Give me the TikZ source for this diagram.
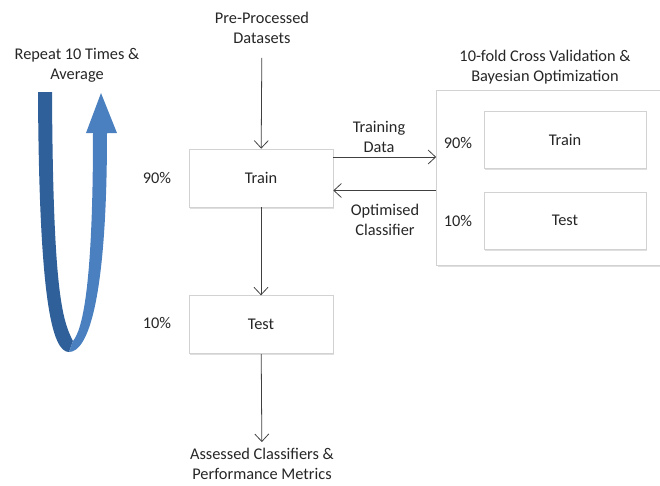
\documentclass[tikz,border=0pt]{standalone}
\usepackage{fontspec}
\setmainfont{Carlito}
\usetikzlibrary{arrows.meta,positioning,shadows}
\definecolor{ribbonDark}{HTML}{30609A}
\definecolor{ribbonLight}{HTML}{4A80C0}
\definecolor{boxLine}{HTML}{D2D2D2}
\tikzset{
    box/.style={draw=boxLine, fill=white, minimum width=2.88cm, minimum height=1.16cm,
        drop shadow={opacity=0.25, shadow xshift=0.7pt, shadow yshift=-0.9pt}},
    txt/.style={align=center, text=black!85, font=\fontsize{9.3}{11.4}\selectfont},
    flow/.style={-{Straight Barb[length=1.5mm, width=2.8mm]}, black!75, line width=0.45pt}
}

\begin{document}
\begin{tikzpicture}[x=0.02cm, y=-0.02cm, every node/.style={txt}]
    \useasboundingbox (0,0) rectangle (660,485);
    % main loop
    \node[box] (train) at (261,178) {Train};
    \node[box, below=1.76cm of train] (test) {Test};
    \node (data) at (262,28) {Pre-Processed\\Datasets};
    \node (results) at (262,464) {Assessed Classifiers \&\\Performance Metrics};
    \node (pctTrain) at (157,178) {90\%};
    \node (pctTest) at (157,323) {10\%};
    % cross validation
    \node[box, minimum width=4.86cm, minimum height=3.5cm] (cv) at (558,177.5) {};
    \node (cvTitle) at (545,67) {10-fold Cross Validation \&\\Bayesian Optimization};
    \node[box, minimum width=3.24cm, minimum height=1.14cm] (cvTrain) at (565,139.5) {Train};
    \node[box, minimum width=3.24cm, minimum height=1.14cm] (cvTest) at (565,220.5) {Test};
    \node (pctCvTrain) at (458,143) {90\%};
    \node (pctCvTest) at (458,221) {10\%};

    \draw[flow, shorten <=1.6mm] (data) -- (train);
    \draw[flow] (train) -- (test);
    \draw[flow] (test) -- (results);

    \coordinate (dataOut) at ([yshift=4.2mm]train.east);
    \coordinate (dataIn) at (cv.west |- dataOut);
    \coordinate (clfOut) at ([yshift=-2.6mm]cv.west);
    \coordinate (clfIn) at (train.east |- clfOut);
    \draw[flow] (dataOut) -- (dataIn);
    \draw[flow] (clfOut) -- (clfIn);
    \node (trainData) at (379,137) {Training\\Data};
    \node (optClf) at (385,220) {Optimised\\Classifier};

    % repeat ribbon
    \node (repeat) at (77,65) {Repeat 10 Times \&\\Average};
    \fill[ribbonDark] (38,92) .. controls (39,300) and (52,352) .. (69,352)
        -- (73,341) .. controls (62,320) and (53,290) .. (52,92) -- cycle;
    \fill[ribbonLight] (69,352) .. controls (88,352) and (107,300) .. (107,133)
        -- (117,133) -- (101,93) -- (86,133) -- (93,133)
        .. controls (93,290) and (82,330) .. (73,341) -- cycle;
\end{tikzpicture}
\end{document}
